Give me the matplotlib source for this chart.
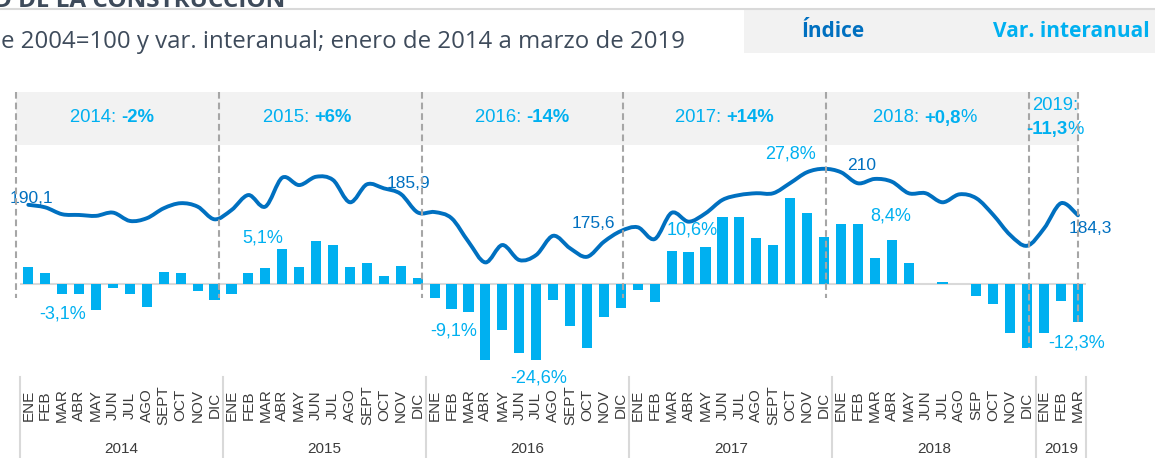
#!/usr/bin/python3

import numpy as np
import matplotlib
matplotlib.use('Agg')
import matplotlib.pyplot as plt
from matplotlib.patches import Rectangle, PathPatch
from matplotlib.lines import Line2D
from matplotlib.path import Path

###############################################################################
# data (enero 2014 - marzo 2019)
meses = ['ENE','FEB','MAR','ABR','MAY','JUN','JUL','AGO','SEPT','OCT','NOV','DIC']*4 \
      + ['ENE','FEB','MAR','ABR','MAY','JUN','JUL','AGO','SEP','OCT','NOV','DIC'] \
      + ['ENE','FEB','MAR']
anios = ['2014','2015','2016','2017','2018','2019']

# indice base 2004=100
indice = [190.1,188.7,184.9,184.5,184.0,185.8,181.2,182.7,188.2,191.0,189.1,182.1,
          187.2,195.5,189.1,205.1,201.0,205.6,203.8,191.5,201.4,199.2,196.1,185.9,
          186.1,182.7,169.7,158.3,167.9,159.6,162.4,173.0,166.1,161.4,169.7,175.6,
          177.7,171.2,185.7,180.8,185.4,192.8,195.5,196.5,196.5,202.1,208.1,210.0,
          208.1,202.0,204.4,202.9,196.5,196.5,191.5,195.9,193.7,184.5,173.4,167.5,
          177.1,191.0,184.3]

# var. interanual (%)
var_ia = [5.6,3.4,-3.1,-3.2,-8.4,-1.2,-3.2,-7.5,3.8,3.4,-2.3,-5.2,
          -3.3,3.7,5.1,11.3,5.6,13.9,12.5,5.6,6.9,2.6,5.8,2.0,
          -4.4,-8.1,-9.1,-24.5,-14.9,-22.4,-24.6,-5.2,-13.5,-20.7,-10.5,-7.8,
          -1.9,-5.7,10.6,10.4,12.0,21.5,21.5,14.7,12.6,27.8,22.8,15.3,
          19.4,19.4,8.4,14.2,6.9,0.0,0.5,0.0,-3.9,-6.5,-15.9,-20.8,
          -15.7,-5.4,-12.3]

# variacion anual en la cabecera
cab_anio  = ['2014: ','2015: ','2016: ','2017: ','2018: ']
cab_var   = ['-2%','+6%','-14%','+14%','+0,8']
cab_resto = ['','','','','%']

# etiquetas: (mes, texto, desplazamiento en px)
etq_indice = [(0,'190,1',(3,6)),(23,'185,9',(-9,29)),(35,'175,6',(-27,8)),
              (47,'210',(38,3)),(62,'184,3',(12,-13))]
etq_var = [(2,'-3,1%',(0,-20)),(14,'5,1%',(-3,30)),(26,'-9,1%',(-15,-19)),
           (30,'-24,6%',(2,-18)),(38,'10,6%',(21,21)),(45,'27,8%',(0,44)),
           (50,'8,4%',(16,42)),(62,'-12,3%',(-1,-21))]

###############################################################################
W,H = 1155,458
def fx(px): return px/W
def fy(py): return 1-py/H

# month spacing / pixel mapping of the original chart
X0_PX, DX_PX = 28.3, 16.93
ZERO_PY, PCT_PX = 284, 3.1
IDX_PY, IDX_V, IDX_PX = 206.9, 188.95, 1.811

AZUL = '#0070C0'
CELESTE = '#00B0F0'
GRIS_TXT = '#3e4b5b'
SANS = 'Liberation Sans'
NARROW = ['Liberation Sans Narrow', 'Liberation Sans']

def smooth_path(xs, ys):
    # excel-like smoothed line: bezier segments through every point
    xs = np.asarray(xs, float); ys = np.asarray(ys, float)
    verts = [(xs[0], ys[0])]; codes = [Path.MOVETO]
    for i in range(len(xs)-1):
        i0 = max(i-1, 0); i3 = min(i+2, len(xs)-1)
        c1 = (xs[i]+(xs[i+1]-xs[i0])/6, ys[i]+(ys[i+1]-ys[i0])/6)
        c2 = (xs[i+1]-(xs[i3]-xs[i])/6, ys[i+1]-(ys[i3]-ys[i])/6)
        verts += [c1, c2, (xs[i+1], ys[i+1])]
        codes += [Path.CURVE4]*3
    return Path(verts, codes)

fig = plt.figure(figsize=(W/100, H/100), dpi=100)

ax = fig.add_axes([0,0,1,1])
ax.set_xlim(-X0_PX/DX_PX, (W-X0_PX)/DX_PX)
ax.set_ylim((ZERO_PY-H)/PCT_PX, ZERO_PY/PCT_PX)
ax.axis('off')

n = len(var_ia)
x = np.arange(n)

# header band with annual variation
ax.axhspan((ZERO_PY-145)/PCT_PX, (ZERO_PY-92)/PCT_PX, xmin=fx(16), xmax=fx(1078),
           color='#f2f2f2', zorder=0, lw=0)

ax.bar(x, var_ia, width=0.6, color=CELESTE, zorder=2)
ax.hlines(0, -0.5, n-0.5, color='#d9d9d9', lw=1.5, zorder=1)

for i, txt, off in etq_var:
    ax.annotate(txt, (i, var_ia[i]), xytext=off, textcoords='offset pixels',
                ha='center', va='center', color=CELESTE, fontsize=13, family=SANS, zorder=5)

# index line on its own scale
ax2 = ax.twinx()
ax2.set_position([0,0,1,1])
ax2.set_ylim(IDX_V-(H-IDX_PY)/IDX_PX, IDX_V+IDX_PY/IDX_PX)
ax2.axis('off')
ax2.add_patch(PathPatch(smooth_path(x, indice), facecolor='none', edgecolor=AZUL, lw=2.8,
                        capstyle='round', joinstyle='round', zorder=3))

for i, txt, off in etq_indice:
    ax2.annotate(txt, (i, indice[i]), xytext=off, textcoords='offset pixels',
                 ha='center', va='center', color=AZUL, fontsize=12.5, family=SANS, zorder=5)

# dashed year dividers
div_x   = [-0.73, 11.26, 23.24, 35.11, 47.12, 59.11, 61.98]
div_bot = [298, 298, 298, 298, 298, 348, 322]
for xd, yb in zip(div_x, div_bot):
    ax2.plot([xd,xd], [fy(92), fy(yb)], transform=ax2.get_xaxis_transform(),
             color='#a6a6a6', lw=1.5, ls=(0,(3.2,1.9)), zorder=6)

# header texts (normal + bold)
cab_x = [70, 263, 475, 675, 873]
for xp, a, v, r in zip(cab_x, cab_anio, cab_var, cab_resto):
    t = fig.text(fx(xp), fy(118), a, ha='left', va='center', color=CELESTE, fontsize=13.3, family=SANS)
    t = ax.annotate(v, xy=(1,0), xycoords=t, ha='left', va='bottom', color=CELESTE,
                    fontsize=13.3, family=SANS, fontweight='bold')
    if r:
        ax.annotate(r, xy=(1,0), xycoords=t, ha='left', va='bottom', color=CELESTE,
                    fontsize=13.3, family=SANS)
fig.text(fx(1032), fy(106), '2019:', ha='left', va='center', color=CELESTE, fontsize=13.3, family=SANS)
t = fig.text(fx(1026), fy(129.5), '-11,3', ha='left', va='center', color=CELESTE, fontsize=13.3,
             family=SANS, fontweight='bold')
ax.annotate('%', xy=(1,0), xycoords=t, ha='left', va='bottom', color=CELESTE, fontsize=13.3, family=SANS)

# category axis: months and years
xt = ax.get_xaxis_transform()
for i in range(n):
    ax.text(i, fy(405), meses[i], rotation=90, ha='center', va='center', transform=xt,
            fontsize=11, color='#3b3b3b', family=NARROW)
sep_x = [-0.5, 11.5, 23.5, 35.5, 47.5, 59.5, 62.5]
for xs in sep_x:
    ax.plot([xs,xs], [fy(377), 0], transform=xt, color='#d9d9d9', lw=1.5)
for k, a in enumerate(anios):
    ax.text((sep_x[k]+sep_x[k+1])/2, fy(449), a, ha='center', va='center', transform=xt,
            fontsize=11, color='#3b3b3b', family=SANS)

###############################################################################
# page header (cut off title, subtitle and legend box)
fig.text(fx(285), fy(7), 'D DE LA CONSTRUCCIÓN', ha='right', va='baseline', fontsize=17.5,
         fontweight='bold', family='Open Sans', color=GRIS_TXT)
fig.add_artist(Line2D([0,1], [fy(9),fy(9)], color='#d9d9d9', lw=1.5))
fig.text(fx(1), fy(42), 'e 2004=100 y var. interanual; enero de 2014 a marzo de 2019',
         ha='left', va='center', fontsize=17.3, family='Open Sans', color=GRIS_TXT)
fig.add_artist(Rectangle((fx(744), fy(53)), fx(W)-fx(744), fy(10)-fy(53),
                         transform=fig.transFigure, color='#f2f2f2', lw=0))
fig.text(fx(833), fy(31.5), 'Índice', ha='center', va='center', fontsize=15,
         fontweight='bold', family='Open Sans', color=AZUL)
fig.text(fx(993), fy(31.5), 'Var. interanual', ha='left', va='center', fontsize=15,
         fontweight='bold', family='Open Sans', color=CELESTE)

plt.savefig('out.png', dpi=100)
print('Created : out.png')
